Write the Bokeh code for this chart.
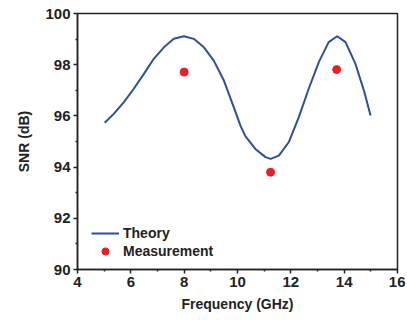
from bokeh.plotting import figure
from bokeh.models import Range1d, Legend, LegendItem, FixedTicker
from bokeh.embed import file_html
from bokeh.resources import INLINE

# Theory curve
theory_x = [5.02, 5.36, 5.74, 6.11, 6.49, 6.86, 7.24, 7.61, 7.99, 8.36, 8.74, 9.11,
            9.49, 9.86, 10.11, 10.30, 10.67, 11.05, 11.24, 11.55, 11.92, 12.30,
            12.67, 13.05, 13.42, 13.74, 14.05, 14.42, 14.74, 14.99]
theory_y = [95.73, 96.08, 96.54, 97.06, 97.64, 98.23, 98.68, 99.01, 99.11, 99.01, 98.68, 98.16,
            97.38, 96.34, 95.62, 95.20, 94.71, 94.39, 94.32, 94.45, 94.97, 95.95,
            97.06, 98.10, 98.88, 99.11, 98.88, 98.04, 96.99, 96.02]

# Measurements
meas_x = [8.0, 11.24, 13.72]
meas_y = [97.71, 93.80, 97.81]

x_ticks = [4, 6, 8, 10, 12, 14, 16]
y_ticks = [90, 92, 94, 96, 98, 100]

FONT = "Liberation Sans"
LINE_COLOR = "#2d4f9e"
DOT_COLOR = "#ee1c24"

p = figure(output_backend="svg", toolbar_location=None,
           frame_width=320, frame_height=256,
           min_border_left=77, min_border_top=13, min_border_right=8, min_border_bottom=10,
           x_range=Range1d(4, 16), y_range=Range1d(90, 100),
           x_axis_label="Frequency (GHz)", y_axis_label="SNR (dB)")

p.background_fill_color = "white"
p.border_fill_color = "white"
p.grid.visible = False
p.outline_line_color = "#222222"
p.outline_line_width = 1.5

for ax, ticks in ((p.xaxis[0], x_ticks), (p.yaxis[0], y_ticks)):
    ax.ticker = FixedTicker(ticks=ticks, minor_ticks=[t + (ticks[1] - ticks[0]) / 2 for t in ticks[:-1]])
    ax.axis_line_color = "#222222"
    ax.axis_line_width = 1.5
    ax.major_tick_line_color = "#222222"
    ax.major_tick_line_width = 1.5
    ax.minor_tick_line_color = "#222222"
    ax.minor_tick_line_width = 1.5
    ax.major_tick_out = 4
    ax.major_tick_in = 0
    ax.minor_tick_out = 2
    ax.minor_tick_in = 0
    ax.major_label_text_font = FONT
    ax.major_label_text_font_style = "bold"
    ax.major_label_text_font_size = "15px"
    ax.major_label_text_color = "#222222"
    ax.axis_label_text_font = FONT
    ax.axis_label_text_font_style = "bold"
    ax.axis_label_text_font_size = "14px"
    ax.axis_label_text_color = "#222222"
    ax.major_label_standoff = 3

p.xaxis[0].axis_label_standoff = 6
p.yaxis[0].axis_label_standoff = 10

r_line = p.line(theory_x, theory_y, line_color=LINE_COLOR, line_width=2, line_join="round")
r_dot = p.scatter(meas_x, meas_y, size=8, fill_color=DOT_COLOR, line_color=DOT_COLOR)

legend = Legend(items=[LegendItem(label="Theory", renderers=[r_line]),
                       LegendItem(label="Measurement", renderers=[r_dot])],
                location=(14, 9))
legend.border_line_color = None
legend.background_fill_alpha = 0
legend.margin = 0
legend.padding = 0
legend.spacing = 0
legend.glyph_width = 28
legend.glyph_height = 18
legend.label_height = 18
legend.label_standoff = 4
legend.label_text_font = FONT
legend.label_text_font_style = "bold"
legend.label_text_font_size = "14px"
legend.label_text_color = "#222222"
p.add_layout(legend, "center")

open("out.html", "w").write(file_html(p, INLINE))
